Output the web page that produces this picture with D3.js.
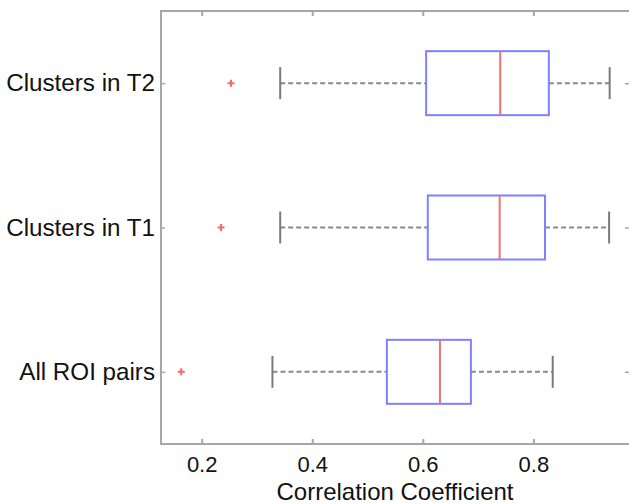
<!DOCTYPE html>
<html>
<head>
<meta charset="utf-8">
<script src="https://cdn.jsdelivr.net/npm/d3@7"></script>
<style>
  html, body { margin: 0; padding: 0; background: #fff; overflow: hidden; }
  text { font-family: "Liberation Sans", Arial, sans-serif; }
</style>
</head>
<body>
<div id="chart"></div>
<script>
/* Horizontal box plot: correlation coefficients per group */

const CATEGORIES = ['All ROI pairs', 'Clusters in T1', 'Clusters in T2'];
const WHISKER_LO = [0.328, 0.342, 0.342];
const Q1 = [0.535, 0.609, 0.606];
const MEDIAN = [0.631, 0.739, 0.740];
const Q3 = [0.687, 0.821, 0.828];
const WHISKER_HI = [0.835, 0.937, 0.938];
const OUTLIERS = [[0.163], [0.235], [0.253]];
const X_TICKS = [0.2, 0.4, 0.6, 0.8];

const width = 629, height = 504;
const margin = { top: 11, left: 161 };
const plotRight = 630;   // right frame falls just off the picture

const svg = d3.select('#chart').append('svg')
    .attr('width', width)
    .attr('height', height);

const x = d3.scaleLinear()
    .domain([0.1264, 0.9748])
    .range([margin.left, plotRight]);

// category index 1..3 from bottom to top, limits 0.5..3.5
const y = d3.scaleLinear()
    .domain([0.5, 3.5])
    .range([444, margin.top]);

const frameColor = '#a6a6a6';
const boxHalf = 32, capHalf = 16;

// frame
svg.append('rect')
    .attr('x', x.range()[0])
    .attr('y', y.range()[1])
    .attr('width', plotRight - margin.left)
    .attr('height', y.range()[0] - y.range()[1])
    .attr('fill', 'none')
    .attr('stroke', frameColor)
    .attr('stroke-width', 2);

// bottom / top axes, ticks inward
const xAxisBottom = d3.axisBottom(x).tickValues(X_TICKS).tickSize(-5)
    .tickFormat(d3.format('.1f'));
const gx = svg.append('g').attr('transform', `translate(0,${y.range()[0]})`).call(xAxisBottom);
gx.select('.domain').remove();
gx.selectAll('.tick line').attr('stroke', frameColor).attr('stroke-width', 2);
gx.selectAll('.tick text')
    .attr('font-size', 22).attr('fill', '#111')
    .attr('y', 28).attr('dy', 0);

const gxTop = svg.append('g').attr('transform', `translate(0,${y.range()[1]})`)
    .call(d3.axisTop(x).tickValues(X_TICKS).tickSize(-5).tickFormat(''));
gxTop.select('.domain').remove();
gxTop.selectAll('.tick line').attr('stroke', frameColor).attr('stroke-width', 2);

// left axis with category labels
const catPos = CATEGORIES.map((c, i) => i + 1);
const gy = svg.append('g').attr('transform', `translate(${margin.left},0)`)
    .call(d3.axisLeft(y).tickValues(catPos).tickSize(-4).tickPadding(6)
        .tickFormat(d => CATEGORIES[d - 1]));
gy.select('.domain').remove();
gy.selectAll('.tick line').attr('stroke', frameColor).attr('stroke-width', 1.5);
gy.selectAll('.tick text').attr('font-size', 24.2).attr('fill', '#111');

const gyRight = svg.append('g').attr('transform', `translate(${plotRight},0)`)
    .call(d3.axisRight(y).tickValues(catPos).tickSize(-5).tickFormat(''));
gyRight.select('.domain').remove();
gyRight.selectAll('.tick line').attr('stroke', frameColor).attr('stroke-width', 1.5);

// x axis title
svg.append('text')
    .attr('x', 395)
    .attr('y', 500)
    .attr('text-anchor', 'middle')
    .attr('font-size', 24)
    .attr('fill', '#111')
    .text('Correlation Coefficient');

// boxes
const boxes = svg.append('g').selectAll('g')
    .data(CATEGORIES.map((c, i) => ({
        name: c, pos: i + 1,
        lo: WHISKER_LO[i], q1: Q1[i], med: MEDIAN[i], q3: Q3[i], hi: WHISKER_HI[i],
        out: OUTLIERS[i]
    })))
    .join('g');

// dashed whiskers
boxes.append('line')
    .attr('x1', d => x(d.lo)).attr('x2', d => x(d.q1))
    .attr('y1', d => y(d.pos)).attr('y2', d => y(d.pos))
    .attr('stroke', '#8a8a8a').attr('stroke-width', 2).attr('stroke-dasharray', '5,3');
boxes.append('line')
    .attr('x1', d => x(d.q3)).attr('x2', d => x(d.hi))
    .attr('y1', d => y(d.pos)).attr('y2', d => y(d.pos))
    .attr('stroke', '#8a8a8a').attr('stroke-width', 2).attr('stroke-dasharray', '5,3');

// whisker caps
['lo', 'hi'].forEach(k => {
    boxes.append('line')
        .attr('x1', d => x(d[k])).attr('x2', d => x(d[k]))
        .attr('y1', d => y(d.pos) - capHalf).attr('y2', d => y(d.pos) + capHalf)
        .attr('stroke', '#7a7a7a').attr('stroke-width', 2);
});

// box
boxes.append('rect')
    .attr('x', d => x(d.q1))
    .attr('width', d => x(d.q3) - x(d.q1))
    .attr('y', d => y(d.pos) - boxHalf)
    .attr('height', boxHalf * 2)
    .attr('fill', '#fff')
    .attr('stroke', '#8080ff')
    .attr('stroke-width', 2);

// median
boxes.append('line')
    .attr('x1', d => x(d.med)).attr('x2', d => x(d.med))
    .attr('y1', d => y(d.pos) - boxHalf).attr('y2', d => y(d.pos) + boxHalf)
    .attr('stroke', '#f27272').attr('stroke-width', 2);

// outliers (+)
boxes.each(function (d) {
    const g = d3.select(this);
    d.out.forEach(v => {
        g.append('path')
            .attr('d', `M${x(v) - 3.5},${y(d.pos)}h7M${x(v)},${y(d.pos) - 3.5}v7`)
            .attr('stroke', '#f26a6a')
            .attr('stroke-width', 2);
    });
});
</script>
</body>
</html>
